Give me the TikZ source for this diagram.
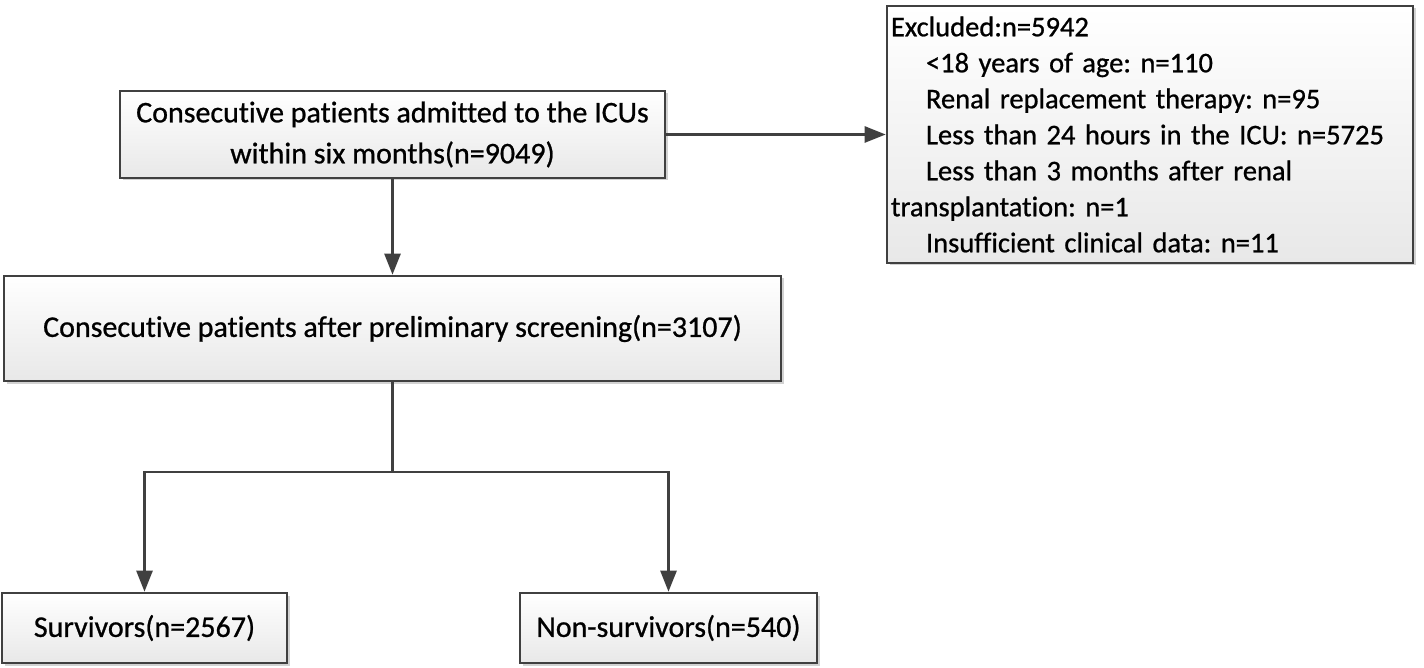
\documentclass[tikz,border=0pt]{standalone}
\usepackage{fontspec}
\setmainfont[RawFeature=-liga,UprightFeatures={FakeBold=0.8}]{Carlito}
\usetikzlibrary{arrows.meta,shadows}
\definecolor{linec}{HTML}{404040}
\definecolor{boxbot}{HTML}{E8E8E8}
\begin{document}
\frenchspacing
\begin{tikzpicture}[x=1pt,y=-1pt,
  box/.style={draw=linec, line width=2.6pt, top color=white, bottom color=boxbot,
    drop shadow={shadow xshift=2.5pt, shadow yshift=-2.5pt, fill=gray!35, opacity=1},
    inner sep=0pt, align=center, font=\fontsize{30}{41}\selectfont},
  conn/.style={draw=linec, line width=2.6pt},
  arr/.style={conn, -{Triangle[length=21pt,width=16pt]}}]
\useasboundingbox (0,0) rectangle (1424,668);
\node[box, minimum width=545pt, minimum height=87pt] (n1) at (392.5,134.5)
  {Consecutive patients admitted to the ICUs\\within six months(n=9049)};
\node[box, minimum width=526pt, minimum height=257pt, text width=518pt, align=left,
  font=\fontsize{28.5}{36}\selectfont] (ex) at (1150,134.5)
  {Excluded:n=5942\\
   \hspace*{35pt}<18 years of age: n=110\\
   \hspace*{35pt}Renal replacement therapy: n=95\\
   \hspace*{35pt}Less than 24 hours in the ICU: n=5725\\
   \hspace*{35pt}Less than 3 months after renal\\
   transplantation: n=1\\
   \hspace*{35pt}Insufficient clinical data: n=11};
\node[box, minimum width=777pt, minimum height=105pt] (n2) at (392.5,328.5)
  {Consecutive patients after preliminary screening(n=3107)};
\node[box, minimum width=285pt, minimum height=70pt] (s) at (144.5,628)
  {Survivors(n=2567)};
\node[box, minimum width=297pt, minimum height=70pt] (ns) at (668.5,628)
  {Non-survivors(n=540)};
\coordinate (split) at (392.5,472);
\draw[arr] (n1.east) -- (ex.west);
\draw[arr] (n1.south) -- (n2.north);
\draw[conn] (n2.south) -- (split);
\draw[arr] (split) -| (s.north);
\draw[arr] (split) -| (ns.north);
\end{tikzpicture}
\end{document}
